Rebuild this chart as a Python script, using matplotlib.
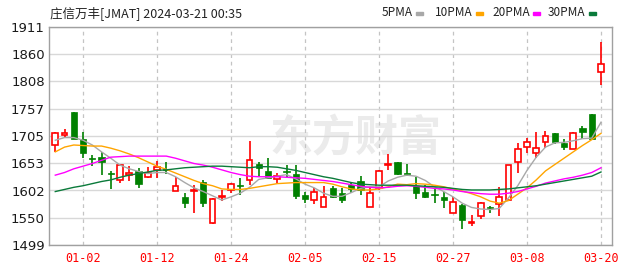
import numpy as np
import matplotlib.pyplot as plt
from matplotlib.patches import Rectangle

plt.rcParams['font.family'] = ['DejaVu Sans', 'Noto Sans CJK SC']

title = '庄信万丰[JMAT] 2024-03-21 00:35'

dates = ['12-27', '12-28', '12-29',
         '01-02', '01-03', '01-04', '01-05', '01-08', '01-09', '01-10', '01-11',
         '01-12', '01-15', '01-16', '01-17', '01-18', '01-19', '01-22', '01-23',
         '01-24', '01-25', '01-26', '01-29', '01-30', '01-31', '02-01', '02-02',
         '02-05', '02-06', '02-07', '02-08', '02-09', '02-12', '02-13', '02-14',
         '02-15', '02-16', '02-19', '02-20', '02-21', '02-22', '02-23', '02-26',
         '02-27', '02-28', '02-29', '03-01', '03-04', '03-05', '03-06', '03-07',
         '03-08', '03-11', '03-12', '03-13', '03-14', '03-15', '03-18', '03-19',
         '03-20']
xtick_labels = ['01-02', '01-12', '01-24', '02-05', '02-15', '02-27', '03-08', '03-20']

opens = [1688, 1707, 1750, 1700, 1664, 1665, 1636, 1622, 1632, 1639,
         1627, 1640, 1643, 1602, 1590, 1601, 1619, 1540, 1590, 1603,
         1612, 1622, 1653, 1639, 1623, 1639, 1634, 1594, 1584, 1571,
         1607, 1598, 1612, 1620, 1571, 1606, 1650, 1655, 1636, 1610,
         1600, 1595, 1590, 1560, 1575, 1540, 1553, 1571, 1576, 1584,
         1656, 1685, 1672, 1693, 1710, 1691, 1681, 1721, 1746, 1826]
highs = [1713, 1718, 1751, 1713, 1670, 1674, 1638, 1651, 1648, 1644,
         1646, 1658, 1656, 1628, 1597, 1612, 1622, 1588, 1603, 1616,
         1625, 1696, 1655, 1663, 1636, 1650, 1650, 1600, 1606, 1610,
         1610, 1606, 1619, 1629, 1609, 1641, 1671, 1656, 1652, 1628,
         1612, 1606, 1600, 1590, 1576, 1556, 1581, 1572, 1608, 1651,
         1692, 1701, 1712, 1714, 1711, 1700, 1713, 1724, 1747, 1883]
lows = [1675, 1704, 1700, 1663, 1648, 1631, 1604, 1616, 1620, 1606,
        1625, 1625, 1633, 1601, 1568, 1559, 1571, 1539, 1582, 1597,
        1593, 1613, 1628, 1623, 1617, 1628, 1586, 1578, 1576, 1570,
        1587, 1578, 1597, 1593, 1570, 1603, 1641, 1631, 1629, 1585,
        1587, 1578, 1568, 1559, 1530, 1534, 1549, 1560, 1553, 1583,
        1636, 1673, 1663, 1682, 1690, 1678, 1680, 1700, 1700, 1801]
closes = [1710, 1710, 1700, 1672, 1662, 1656, 1634, 1650, 1636, 1615,
          1636, 1647, 1641, 1611, 1578, 1603, 1579, 1586, 1592, 1614,
          1610, 1660, 1644, 1626, 1630, 1637, 1592, 1585, 1600, 1590,
          1590, 1584, 1604, 1603, 1597, 1639, 1653, 1633, 1634, 1597,
          1590, 1593, 1584, 1581, 1547, 1542, 1578, 1569, 1590, 1650,
          1680, 1694, 1682, 1705, 1694, 1684, 1710, 1713, 1700, 1842]

ma5 = [1697, 1702, 1702, 1697, 1688, 1675, 1663, 1650, 1643, 1638,
       1634, 1636, 1636, 1628, 1617, 1607, 1600, 1592, 1584, 1590,
       1597, 1608, 1623, 1626, 1629, 1632, 1624, 1614, 1607, 1597,
       1591, 1591, 1598, 1606, 1609, 1609, 1620, 1627, 1631, 1629,
       1621, 1609, 1600, 1590, 1578, 1570, 1567, 1566, 1568, 1588,
       1611, 1640, 1665, 1684, 1692, 1693, 1696, 1700, 1701, 1731]
ma10 = [1675, 1684, 1688, 1687, 1686, 1686, 1682, 1677, 1671, 1664,
        1656, 1648, 1642, 1635, 1628, 1621, 1615, 1611, 1605, 1604,
        1604, 1606, 1609, 1612, 1615, 1616, 1617, 1617, 1617, 1617,
        1614, 1609, 1605, 1603, 1603, 1605, 1609, 1614, 1613, 1615,
        1614, 1612, 1609, 1605, 1601, 1596, 1590, 1582, 1578, 1583,
        1595, 1607, 1622, 1639, 1651, 1663, 1675, 1687, 1698, 1710]
ma20 = [1631, 1636, 1643, 1648, 1653, 1659, 1665, 1666, 1667, 1667,
        1667, 1667, 1667, 1663, 1658, 1653, 1650, 1646, 1641, 1636,
        1632, 1629, 1628, 1628, 1628, 1627, 1626, 1625, 1623, 1621,
        1619, 1616, 1613, 1610, 1608, 1607, 1608, 1610, 1611, 1610,
        1608, 1606, 1605, 1603, 1600, 1598, 1596, 1595, 1595, 1597,
        1600, 1605, 1610, 1616, 1620, 1624, 1627, 1631, 1636, 1645]
ma30 = [1600, 1604, 1608, 1611, 1615, 1619, 1622, 1627, 1631, 1634,
        1637, 1640, 1641, 1643, 1645, 1646, 1647, 1648, 1648, 1647,
        1646, 1645, 1647, 1647, 1646, 1643, 1640, 1636, 1632, 1628,
        1625, 1621, 1617, 1614, 1613, 1612, 1612, 1612, 1612, 1611,
        1610, 1609, 1608, 1606, 1604, 1603, 1603, 1603, 1604, 1605,
        1607, 1609, 1611, 1614, 1617, 1620, 1623, 1626, 1629, 1637]

ytick_labels = ['1499', '1550', '1602', '1653', '1705', '1757', '1808', '1860', '1911']
ma_names = ['5PMA', '10PMA', '20PMA', '30PMA']
ma_colors = ['#a8a8a8', '#ffa500', '#ff00ff', '#0a7a3a']

up_color = '#ff0000'
down_color = '#008000'

W, H = 621, 271
fig = plt.figure(figsize=(W / 100, H / 100), dpi=100)
ax = fig.add_axes([49 / W, 1 - 245 / H, (612 - 49) / W, (245 - 27) / H])

x = np.arange(len(dates))
o = np.array(opens)
c = np.array(closes)
up = c >= o

# watermark
ax.text(0.545, 0.49, '东方财富', transform=ax.transAxes, ha='center', va='center',
        fontsize=31, fontweight='bold', color='#ebebeb',
        family=['Noto Sans CJK SC'], zorder=0)

# candles: wick first, body on top
ax.vlines(x[up], np.array(lows)[up], np.array(highs)[up], color=up_color, lw=1.2, zorder=2)
ax.vlines(x[~up], np.array(lows)[~up], np.array(highs)[~up], color=down_color, lw=1.2, zorder=2)
body = np.maximum(np.abs(c - o), 1.2)
ax.bar(x[up], body[up], bottom=np.minimum(o, c)[up], width=0.62,
       facecolor='white', edgecolor=up_color, linewidth=1.2, zorder=3)
ax.bar(x[~up], body[~up], bottom=np.minimum(o, c)[~up], width=0.68,
       facecolor=down_color, edgecolor=down_color, linewidth=0.5, zorder=3)

for ma, col in zip([ma5, ma10, ma20, ma30], ma_colors):
    ax.plot(x, ma, color=col, lw=1.0, zorder=4)

ax.set_xlim(-0.68, 60.19)
ax.set_ylim(1499, 1911)
ax.set_yticks(np.linspace(1499, 1911, 9))
ax.set_yticklabels(ytick_labels)
ax.set_xticks([dates.index(d) for d in xtick_labels])
ax.set_xticklabels(xtick_labels, color='#ff0000', family=['DejaVu Sans Mono'], fontsize=8.5)
ax.tick_params(axis='y', length=0, pad=3, labelsize=9.5, labelcolor='#1a1a1a')
ax.tick_params(axis='x', length=0, pad=5)

ax.grid(axis='y', color='#d8d8d8', lw=1, ls='-', zorder=0)
ax.grid(axis='x', color='#c4c4c4', lw=0.9, ls=(0, (3, 3)), zorder=0)
ax.set_axisbelow(True)
for s in ax.spines.values():
    s.set_color('#a0a0a0')
    s.set_linewidth(1)

fig.text(50 / W, 1 - 13 / H, title, ha='left', va='center', fontsize=9,
         color='#222222', family=['Noto Sans CJK SC'])

# legend across the top right
leg_x = [382, 435, 492, 548]
for name, col, lx in zip(ma_names, ma_colors, leg_x):
    t = fig.text(lx / W, 1 - 13 / H, name, ha='left', va='center', fontsize=8.5,
                 color='#222222', family=['Noto Sans CJK SC'])
    fig.canvas.draw()
    bb = t.get_window_extent()
    fig.patches.append(Rectangle(((bb.x1 + 3) / W, 1 - 14.5 / H), 7 / W, 3 / H,
                                 transform=fig.transFigure, color=col, figure=fig))

fig.savefig('out.png', dpi=100, facecolor='white')
